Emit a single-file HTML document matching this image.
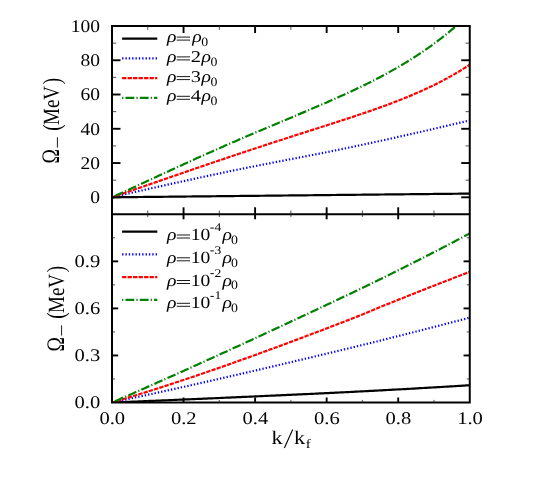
<!DOCTYPE html>
<html><head><meta charset="utf-8"><title>plot</title>
<style>
html,body{margin:0;padding:0;background:#fff;}
body{width:554px;height:498px;overflow:hidden;position:relative;font-family:"Liberation Serif",serif;}
svg{position:absolute;left:0;top:0;opacity:0.999;will-change:opacity;}
text{font-family:"Liberation Serif",serif;fill:#000;text-rendering:geometricPrecision;}
.i{font-style:italic;}
</style></head><body>
<svg width="554" height="498" viewBox="0 0 554 498">
<defs>
<clipPath id="ct"><rect x="112.0" y="26.0" width="357.75" height="188.3"/></clipPath>
<clipPath id="cb"><rect x="112.0" y="214.3" width="357.75" height="188.2"/></clipPath>
</defs>

<path d="M112.00,197.30 L113.79,197.28 L115.58,197.26 L117.37,197.24 L119.16,197.23 L120.94,197.21 L122.73,197.19 L124.52,197.17 L126.31,197.15 L128.10,197.13 L129.89,197.11 L131.68,197.10 L133.47,197.08 L135.25,197.06 L137.04,197.04 L138.83,197.02 L140.62,197.00 L142.41,196.99 L144.20,196.97 L145.99,196.95 L147.78,196.93 L149.56,196.91 L151.35,196.89 L153.14,196.87 L154.93,196.86 L156.72,196.84 L158.51,196.82 L160.30,196.80 L162.09,196.78 L163.87,196.76 L165.66,196.74 L167.45,196.73 L169.24,196.71 L171.03,196.69 L172.82,196.67 L174.61,196.65 L176.39,196.63 L178.18,196.62 L179.97,196.60 L181.76,196.58 L183.55,196.56 L185.34,196.54 L187.13,196.52 L188.92,196.50 L190.70,196.49 L192.49,196.47 L194.28,196.45 L196.07,196.43 L197.86,196.41 L199.65,196.39 L201.44,196.37 L203.23,196.36 L205.01,196.34 L206.80,196.32 L208.59,196.30 L210.38,196.28 L212.17,196.26 L213.96,196.25 L215.75,196.23 L217.54,196.21 L219.32,196.19 L221.11,196.17 L222.90,196.15 L224.69,196.13 L226.48,196.12 L228.27,196.10 L230.06,196.08 L231.85,196.06 L233.63,196.04 L235.42,196.02 L237.21,196.00 L239.00,195.99 L240.79,195.97 L242.58,195.95 L244.37,195.93 L246.16,195.91 L247.94,195.89 L249.73,195.88 L251.52,195.86 L253.31,195.84 L255.10,195.82 L256.89,195.80 L258.68,195.78 L260.47,195.76 L262.25,195.75 L264.04,195.73 L265.83,195.71 L267.62,195.69 L269.41,195.67 L271.20,195.65 L272.99,195.63 L274.78,195.62 L276.56,195.60 L278.35,195.58 L280.14,195.56 L281.93,195.54 L283.72,195.52 L285.51,195.51 L287.30,195.49 L289.09,195.47 L290.88,195.45 L292.66,195.43 L294.45,195.41 L296.24,195.39 L298.03,195.38 L299.82,195.36 L301.61,195.34 L303.40,195.32 L305.19,195.30 L306.97,195.28 L308.76,195.26 L310.55,195.25 L312.34,195.23 L314.13,195.21 L315.92,195.19 L317.71,195.17 L319.50,195.15 L321.28,195.14 L323.07,195.12 L324.86,195.10 L326.65,195.08 L328.44,195.06 L330.23,195.04 L332.02,195.02 L333.81,195.01 L335.59,194.99 L337.38,194.97 L339.17,194.95 L340.96,194.93 L342.75,194.91 L344.54,194.89 L346.33,194.88 L348.12,194.86 L349.90,194.84 L351.69,194.82 L353.48,194.80 L355.27,194.78 L357.06,194.77 L358.85,194.75 L360.64,194.73 L362.43,194.71 L364.21,194.69 L366.00,194.67 L367.79,194.65 L369.58,194.64 L371.37,194.62 L373.16,194.60 L374.95,194.58 L376.74,194.56 L378.52,194.54 L380.31,194.52 L382.10,194.51 L383.89,194.49 L385.68,194.47 L387.47,194.45 L389.26,194.43 L391.05,194.41 L392.83,194.40 L394.62,194.38 L396.41,194.36 L398.20,194.34 L399.99,194.32 L401.78,194.30 L403.57,194.28 L405.36,194.27 L407.14,194.25 L408.93,194.23 L410.72,194.21 L412.51,194.19 L414.30,194.17 L416.09,194.15 L417.88,194.14 L419.67,194.12 L421.45,194.10 L423.24,194.08 L425.03,194.06 L426.82,194.04 L428.61,194.03 L430.40,194.01 L432.19,193.99 L433.98,193.97 L435.76,193.95 L437.55,193.93 L439.34,193.91 L441.13,193.90 L442.92,193.88 L444.71,193.86 L446.50,193.84 L448.29,193.82 L450.07,193.80 L451.86,193.78 L453.65,193.77 L455.44,193.75 L457.23,193.73 L459.02,193.71 L460.81,193.69 L462.59,193.67 L464.38,193.66 L466.17,193.64 L467.96,193.62 L469.75,193.60" fill="none" stroke="#000000" stroke-width="2.2" clip-path="url(#ct)"/>
<path d="M112.00,197.30 L113.79,196.88 L115.58,196.47 L117.37,196.05 L119.16,195.64 L120.94,195.23 L122.73,194.81 L124.52,194.40 L126.31,193.99 L128.10,193.58 L129.89,193.17 L131.68,192.76 L133.47,192.35 L135.25,191.94 L137.04,191.53 L138.83,191.13 L140.62,190.72 L142.41,190.31 L144.20,189.91 L145.99,189.50 L147.78,189.10 L149.56,188.70 L151.35,188.29 L153.14,187.89 L154.93,187.49 L156.72,187.09 L158.51,186.69 L160.30,186.29 L162.09,185.89 L163.87,185.49 L165.66,185.09 L167.45,184.69 L169.24,184.29 L171.03,183.90 L172.82,183.50 L174.61,183.11 L176.39,182.71 L178.18,182.32 L179.97,181.93 L181.76,181.53 L183.55,181.14 L185.34,180.75 L187.13,180.36 L188.92,179.97 L190.70,179.58 L192.49,179.19 L194.28,178.81 L196.07,178.42 L197.86,178.03 L199.65,177.65 L201.44,177.26 L203.23,176.88 L205.01,176.49 L206.80,176.11 L208.59,175.73 L210.38,175.34 L212.17,174.96 L213.96,174.58 L215.75,174.20 L217.54,173.82 L219.32,173.44 L221.11,173.07 L222.90,172.69 L224.69,172.31 L226.48,171.94 L228.27,171.56 L230.06,171.19 L231.85,170.81 L233.63,170.44 L235.42,170.07 L237.21,169.71 L239.00,169.34 L240.79,168.98 L242.58,168.61 L244.37,168.25 L246.16,167.89 L247.94,167.53 L249.73,167.17 L251.52,166.82 L253.31,166.46 L255.10,166.11 L256.89,165.75 L258.68,165.40 L260.47,165.05 L262.25,164.70 L264.04,164.35 L265.83,164.00 L267.62,163.65 L269.41,163.30 L271.20,162.96 L272.99,162.61 L274.78,162.26 L276.56,161.92 L278.35,161.57 L280.14,161.23 L281.93,160.88 L283.72,160.54 L285.51,160.19 L287.30,159.85 L289.09,159.51 L290.88,159.16 L292.66,158.82 L294.45,158.47 L296.24,158.13 L298.03,157.78 L299.82,157.44 L301.61,157.09 L303.40,156.75 L305.19,156.40 L306.97,156.05 L308.76,155.70 L310.55,155.36 L312.34,155.01 L314.13,154.66 L315.92,154.31 L317.71,153.95 L319.50,153.60 L321.28,153.25 L323.07,152.89 L324.86,152.54 L326.65,152.18 L328.44,151.82 L330.23,151.46 L332.02,151.10 L333.81,150.74 L335.59,150.38 L337.38,150.01 L339.17,149.65 L340.96,149.28 L342.75,148.91 L344.54,148.54 L346.33,148.17 L348.12,147.79 L349.90,147.41 L351.69,147.04 L353.48,146.66 L355.27,146.28 L357.06,145.90 L358.85,145.52 L360.64,145.13 L362.43,144.75 L364.21,144.37 L366.00,143.98 L367.79,143.60 L369.58,143.21 L371.37,142.82 L373.16,142.44 L374.95,142.05 L376.74,141.66 L378.52,141.27 L380.31,140.88 L382.10,140.49 L383.89,140.09 L385.68,139.70 L387.47,139.31 L389.26,138.91 L391.05,138.52 L392.83,138.12 L394.62,137.72 L396.41,137.33 L398.20,136.93 L399.99,136.53 L401.78,136.13 L403.57,135.73 L405.36,135.33 L407.14,134.92 L408.93,134.52 L410.72,134.12 L412.51,133.71 L414.30,133.31 L416.09,132.90 L417.88,132.49 L419.67,132.09 L421.45,131.68 L423.24,131.27 L425.03,130.86 L426.82,130.45 L428.61,130.04 L430.40,129.63 L432.19,129.21 L433.98,128.80 L435.76,128.39 L437.55,127.97 L439.34,127.56 L441.13,127.14 L442.92,126.72 L444.71,126.31 L446.50,125.89 L448.29,125.47 L450.07,125.05 L451.86,124.63 L453.65,124.21 L455.44,123.79 L457.23,123.36 L459.02,122.94 L460.81,122.52 L462.59,122.09 L464.38,121.67 L466.17,121.24 L467.96,120.81 L469.75,120.39" fill="none" stroke="#0000ff" stroke-width="2.2" stroke-dasharray="1.35 2.0" clip-path="url(#ct)"/>
<path d="M112.00,197.30 L113.79,196.68 L115.58,196.07 L117.37,195.45 L119.16,194.83 L120.94,194.22 L122.73,193.60 L124.52,192.98 L126.31,192.37 L128.10,191.75 L129.89,191.13 L131.68,190.52 L133.47,189.90 L135.25,189.28 L137.04,188.67 L138.83,188.05 L140.62,187.43 L142.41,186.82 L144.20,186.20 L145.99,185.58 L147.78,184.97 L149.56,184.35 L151.35,183.73 L153.14,183.11 L154.93,182.50 L156.72,181.88 L158.51,181.26 L160.30,180.64 L162.09,180.03 L163.87,179.41 L165.66,178.79 L167.45,178.18 L169.24,177.56 L171.03,176.94 L172.82,176.33 L174.61,175.71 L176.39,175.09 L178.18,174.48 L179.97,173.86 L181.76,173.25 L183.55,172.63 L185.34,172.02 L187.13,171.40 L188.92,170.79 L190.70,170.17 L192.49,169.56 L194.28,168.95 L196.07,168.33 L197.86,167.72 L199.65,167.11 L201.44,166.49 L203.23,165.88 L205.01,165.27 L206.80,164.66 L208.59,164.05 L210.38,163.44 L212.17,162.83 L213.96,162.23 L215.75,161.62 L217.54,161.01 L219.32,160.41 L221.11,159.80 L222.90,159.19 L224.69,158.59 L226.48,157.99 L228.27,157.38 L230.06,156.78 L231.85,156.18 L233.63,155.58 L235.42,154.98 L237.21,154.38 L239.00,153.78 L240.79,153.19 L242.58,152.59 L244.37,151.99 L246.16,151.40 L247.94,150.80 L249.73,150.21 L251.52,149.62 L253.31,149.03 L255.10,148.44 L256.89,147.85 L258.68,147.26 L260.47,146.67 L262.25,146.08 L264.04,145.50 L265.83,144.91 L267.62,144.33 L269.41,143.74 L271.20,143.16 L272.99,142.58 L274.78,141.99 L276.56,141.41 L278.35,140.83 L280.14,140.25 L281.93,139.68 L283.72,139.10 L285.51,138.52 L287.30,137.94 L289.09,137.37 L290.88,136.79 L292.66,136.22 L294.45,135.64 L296.24,135.07 L298.03,134.50 L299.82,133.92 L301.61,133.35 L303.40,132.78 L305.19,132.20 L306.97,131.63 L308.76,131.06 L310.55,130.49 L312.34,129.92 L314.13,129.35 L315.92,128.77 L317.71,128.20 L319.50,127.63 L321.28,127.06 L323.07,126.48 L324.86,125.91 L326.65,125.34 L328.44,124.76 L330.23,124.19 L332.02,123.61 L333.81,123.03 L335.59,122.46 L337.38,121.88 L339.17,121.30 L340.96,120.72 L342.75,120.13 L344.54,119.55 L346.33,118.96 L348.12,118.38 L349.90,117.79 L351.69,117.20 L353.48,116.60 L355.27,116.01 L357.06,115.41 L358.85,114.81 L360.64,114.21 L362.43,113.60 L364.21,113.00 L366.00,112.39 L367.79,111.77 L369.58,111.15 L371.37,110.53 L373.16,109.91 L374.95,109.28 L376.74,108.65 L378.52,108.01 L380.31,107.37 L382.10,106.73 L383.89,106.08 L385.68,105.42 L387.47,104.76 L389.26,104.10 L391.05,103.43 L392.83,102.75 L394.62,102.07 L396.41,101.38 L398.20,100.68 L399.99,99.98 L401.78,99.27 L403.57,98.56 L405.36,97.84 L407.14,97.11 L408.93,96.37 L410.72,95.63 L412.51,94.87 L414.30,94.11 L416.09,93.34 L417.88,92.56 L419.67,91.77 L421.45,90.97 L423.24,90.16 L425.03,89.34 L426.82,88.52 L428.61,87.68 L430.40,86.82 L432.19,85.96 L433.98,85.09 L435.76,84.20 L437.55,83.30 L439.34,82.39 L441.13,81.47 L442.92,80.53 L444.71,79.58 L446.50,78.62 L448.29,77.64 L450.07,76.64 L451.86,75.64 L453.65,74.61 L455.44,73.57 L457.23,72.52 L459.02,71.44 L460.81,70.35 L462.59,69.25 L464.38,68.12 L466.17,66.98 L467.96,65.82 L469.75,64.64" fill="none" stroke="#ff0000" stroke-width="2.2" stroke-dasharray="4.3 1.2" clip-path="url(#ct)"/>
<path d="M112.00,197.30 L113.79,196.49 L115.58,195.68 L117.37,194.87 L119.16,194.05 L120.94,193.23 L122.73,192.42 L124.52,191.60 L126.31,190.77 L128.10,189.95 L129.89,189.13 L131.68,188.30 L133.47,187.48 L135.25,186.65 L137.04,185.82 L138.83,184.99 L140.62,184.16 L142.41,183.33 L144.20,182.51 L145.99,181.67 L147.78,180.84 L149.56,180.01 L151.35,179.18 L153.14,178.35 L154.93,177.52 L156.72,176.69 L158.51,175.86 L160.30,175.03 L162.09,174.20 L163.87,173.38 L165.66,172.55 L167.45,171.72 L169.24,170.89 L171.03,170.07 L172.82,169.24 L174.61,168.42 L176.39,167.59 L178.18,166.77 L179.97,165.95 L181.76,165.13 L183.55,164.31 L185.34,163.49 L187.13,162.68 L188.92,161.86 L190.70,161.05 L192.49,160.23 L194.28,159.42 L196.07,158.61 L197.86,157.80 L199.65,156.99 L201.44,156.19 L203.23,155.38 L205.01,154.58 L206.80,153.78 L208.59,152.98 L210.38,152.18 L212.17,151.38 L213.96,150.59 L215.75,149.80 L217.54,149.00 L219.32,148.21 L221.11,147.42 L222.90,146.64 L224.69,145.85 L226.48,145.07 L228.27,144.29 L230.06,143.50 L231.85,142.72 L233.63,141.95 L235.42,141.17 L237.21,140.40 L239.00,139.62 L240.79,138.85 L242.58,138.08 L244.37,137.31 L246.16,136.54 L247.94,135.78 L249.73,135.01 L251.52,134.25 L253.31,133.48 L255.10,132.72 L256.89,131.96 L258.68,131.20 L260.47,130.44 L262.25,129.69 L264.04,128.93 L265.83,128.17 L267.62,127.42 L269.41,126.67 L271.20,125.91 L272.99,125.16 L274.78,124.41 L276.56,123.66 L278.35,122.90 L280.14,122.15 L281.93,121.40 L283.72,120.65 L285.51,119.90 L287.30,119.15 L289.09,118.40 L290.88,117.65 L292.66,116.89 L294.45,116.14 L296.24,115.39 L298.03,114.64 L299.82,113.88 L301.61,113.13 L303.40,112.37 L305.19,111.62 L306.97,110.86 L308.76,110.10 L310.55,109.34 L312.34,108.58 L314.13,107.81 L315.92,107.05 L317.71,106.28 L319.50,105.51 L321.28,104.74 L323.07,103.96 L324.86,103.19 L326.65,102.41 L328.44,101.62 L330.23,100.84 L332.02,100.05 L333.81,99.26 L335.59,98.47 L337.38,97.67 L339.17,96.86 L340.96,96.06 L342.75,95.25 L344.54,94.43 L346.33,93.62 L348.12,92.79 L349.90,91.97 L351.69,91.13 L353.48,90.29 L355.27,89.45 L357.06,88.60 L358.85,87.75 L360.64,86.89 L362.43,86.02 L364.21,85.15 L366.00,84.27 L367.79,83.38 L369.58,82.49 L371.37,81.59 L373.16,80.68 L374.95,79.77 L376.74,78.84 L378.52,77.91 L380.31,76.97 L382.10,76.03 L383.89,75.07 L385.68,74.11 L387.47,73.13 L389.26,72.15 L391.05,71.15 L392.83,70.15 L394.62,69.14 L396.41,68.11 L398.20,67.08 L399.99,66.03 L401.78,64.98 L403.57,63.91 L405.36,62.83 L407.14,61.74 L408.93,60.63 L410.72,59.52 L412.51,58.39 L414.30,57.24 L416.09,56.09 L417.88,54.92 L419.67,53.73 L421.45,52.54 L423.24,51.32 L425.03,50.10 L426.82,48.85 L428.61,47.60 L430.40,46.32 L432.19,45.03 L433.98,43.72 L435.76,42.40 L437.55,41.06 L439.34,39.70 L441.13,38.33 L442.92,36.93 L444.71,35.52 L446.50,34.09 L448.29,32.64 L450.07,31.17 L451.86,29.68 L453.65,28.18 L455.44,26.65 L457.23,25.10 L459.02,23.52 L460.81,21.93 L462.59,20.32 L464.38,18.68 L466.17,17.02 L467.96,15.34 L469.75,13.63" fill="none" stroke="#008000" stroke-width="2.2" stroke-dasharray="1.2 2.2 8.8 2.1" clip-path="url(#ct)"/>
<path d="M112.00,402.50 L113.79,402.43 L115.58,402.36 L117.37,402.29 L119.16,402.21 L120.94,402.14 L122.73,402.07 L124.52,402.00 L126.31,401.93 L128.10,401.85 L129.89,401.78 L131.68,401.71 L133.47,401.64 L135.25,401.56 L137.04,401.49 L138.83,401.42 L140.62,401.34 L142.41,401.27 L144.20,401.20 L145.99,401.12 L147.78,401.05 L149.56,400.97 L151.35,400.90 L153.14,400.83 L154.93,400.75 L156.72,400.68 L158.51,400.60 L160.30,400.53 L162.09,400.45 L163.87,400.38 L165.66,400.30 L167.45,400.23 L169.24,400.15 L171.03,400.08 L172.82,400.00 L174.61,399.93 L176.39,399.85 L178.18,399.77 L179.97,399.70 L181.76,399.62 L183.55,399.55 L185.34,399.47 L187.13,399.39 L188.92,399.32 L190.70,399.24 L192.49,399.16 L194.28,399.09 L196.07,399.01 L197.86,398.93 L199.65,398.85 L201.44,398.78 L203.23,398.70 L205.01,398.62 L206.80,398.55 L208.59,398.47 L210.38,398.39 L212.17,398.31 L213.96,398.23 L215.75,398.16 L217.54,398.08 L219.32,398.00 L221.11,397.92 L222.90,397.84 L224.69,397.76 L226.48,397.68 L228.27,397.61 L230.06,397.53 L231.85,397.45 L233.63,397.37 L235.42,397.29 L237.21,397.21 L239.00,397.13 L240.79,397.05 L242.58,396.97 L244.37,396.89 L246.16,396.81 L247.94,396.73 L249.73,396.65 L251.52,396.57 L253.31,396.49 L255.10,396.41 L256.89,396.33 L258.68,396.25 L260.47,396.17 L262.25,396.09 L264.04,396.01 L265.83,395.93 L267.62,395.85 L269.41,395.77 L271.20,395.69 L272.99,395.61 L274.78,395.53 L276.56,395.45 L278.35,395.37 L280.14,395.29 L281.93,395.20 L283.72,395.12 L285.51,395.04 L287.30,394.96 L289.09,394.88 L290.88,394.80 L292.66,394.72 L294.45,394.64 L296.24,394.55 L298.03,394.47 L299.82,394.39 L301.61,394.31 L303.40,394.22 L305.19,394.14 L306.97,394.06 L308.76,393.98 L310.55,393.89 L312.34,393.81 L314.13,393.73 L315.92,393.64 L317.71,393.56 L319.50,393.47 L321.28,393.39 L323.07,393.30 L324.86,393.22 L326.65,393.13 L328.44,393.05 L330.23,392.96 L332.02,392.87 L333.81,392.79 L335.59,392.70 L337.38,392.61 L339.17,392.52 L340.96,392.43 L342.75,392.34 L344.54,392.25 L346.33,392.16 L348.12,392.07 L349.90,391.98 L351.69,391.89 L353.48,391.80 L355.27,391.71 L357.06,391.62 L358.85,391.52 L360.64,391.43 L362.43,391.34 L364.21,391.24 L366.00,391.15 L367.79,391.06 L369.58,390.96 L371.37,390.87 L373.16,390.78 L374.95,390.68 L376.74,390.59 L378.52,390.49 L380.31,390.39 L382.10,390.30 L383.89,390.20 L385.68,390.11 L387.47,390.01 L389.26,389.91 L391.05,389.82 L392.83,389.72 L394.62,389.62 L396.41,389.52 L398.20,389.42 L399.99,389.32 L401.78,389.23 L403.57,389.13 L405.36,389.03 L407.14,388.93 L408.93,388.83 L410.72,388.73 L412.51,388.63 L414.30,388.53 L416.09,388.42 L417.88,388.32 L419.67,388.22 L421.45,388.12 L423.24,388.02 L425.03,387.91 L426.82,387.81 L428.61,387.71 L430.40,387.60 L432.19,387.50 L433.98,387.40 L435.76,387.29 L437.55,387.19 L439.34,387.08 L441.13,386.98 L442.92,386.87 L444.71,386.76 L446.50,386.66 L448.29,386.55 L450.07,386.44 L451.86,386.34 L453.65,386.23 L455.44,386.12 L457.23,386.01 L459.02,385.91 L460.81,385.80 L462.59,385.69 L464.38,385.58 L466.17,385.47 L467.96,385.36 L469.75,385.25" fill="none" stroke="#000000" stroke-width="2.2" clip-path="url(#cb)"/>
<path d="M112.00,402.50 L113.79,402.12 L115.58,401.74 L117.37,401.36 L119.16,400.97 L120.94,400.59 L122.73,400.21 L124.52,399.83 L126.31,399.44 L128.10,399.06 L129.89,398.67 L131.68,398.29 L133.47,397.90 L135.25,397.51 L137.04,397.13 L138.83,396.74 L140.62,396.35 L142.41,395.96 L144.20,395.57 L145.99,395.18 L147.78,394.79 L149.56,394.40 L151.35,394.01 L153.14,393.62 L154.93,393.23 L156.72,392.83 L158.51,392.44 L160.30,392.05 L162.09,391.65 L163.87,391.26 L165.66,390.86 L167.45,390.47 L169.24,390.07 L171.03,389.67 L172.82,389.28 L174.61,388.88 L176.39,388.48 L178.18,388.08 L179.97,387.69 L181.76,387.29 L183.55,386.89 L185.34,386.49 L187.13,386.09 L188.92,385.69 L190.70,385.28 L192.49,384.88 L194.28,384.48 L196.07,384.08 L197.86,383.67 L199.65,383.27 L201.44,382.87 L203.23,382.46 L205.01,382.06 L206.80,381.65 L208.59,381.25 L210.38,380.84 L212.17,380.43 L213.96,380.03 L215.75,379.62 L217.54,379.21 L219.32,378.80 L221.11,378.40 L222.90,377.99 L224.69,377.58 L226.48,377.17 L228.27,376.76 L230.06,376.35 L231.85,375.94 L233.63,375.52 L235.42,375.11 L237.21,374.70 L239.00,374.29 L240.79,373.87 L242.58,373.46 L244.37,373.05 L246.16,372.63 L247.94,372.22 L249.73,371.80 L251.52,371.39 L253.31,370.97 L255.10,370.56 L256.89,370.14 L258.68,369.72 L260.47,369.31 L262.25,368.89 L264.04,368.47 L265.83,368.05 L267.62,367.64 L269.41,367.22 L271.20,366.80 L272.99,366.38 L274.78,365.96 L276.56,365.54 L278.35,365.12 L280.14,364.70 L281.93,364.27 L283.72,363.85 L285.51,363.43 L287.30,363.01 L289.09,362.59 L290.88,362.16 L292.66,361.74 L294.45,361.32 L296.24,360.89 L298.03,360.47 L299.82,360.04 L301.61,359.62 L303.40,359.19 L305.19,358.77 L306.97,358.34 L308.76,357.92 L310.55,357.49 L312.34,357.06 L314.13,356.64 L315.92,356.21 L317.71,355.78 L319.50,355.35 L321.28,354.93 L323.07,354.50 L324.86,354.07 L326.65,353.64 L328.44,353.21 L330.23,352.78 L332.02,352.35 L333.81,351.92 L335.59,351.49 L337.38,351.06 L339.17,350.63 L340.96,350.20 L342.75,349.76 L344.54,349.33 L346.33,348.90 L348.12,348.47 L349.90,348.04 L351.69,347.60 L353.48,347.17 L355.27,346.73 L357.06,346.30 L358.85,345.86 L360.64,345.42 L362.43,344.99 L364.21,344.55 L366.00,344.11 L367.79,343.67 L369.58,343.23 L371.37,342.79 L373.16,342.34 L374.95,341.90 L376.74,341.46 L378.52,341.01 L380.31,340.57 L382.10,340.12 L383.89,339.68 L385.68,339.23 L387.47,338.78 L389.26,338.34 L391.05,337.89 L392.83,337.44 L394.62,336.99 L396.41,336.54 L398.20,336.09 L399.99,335.63 L401.78,335.18 L403.57,334.73 L405.36,334.28 L407.14,333.82 L408.93,333.37 L410.72,332.91 L412.51,332.46 L414.30,332.00 L416.09,331.54 L417.88,331.09 L419.67,330.63 L421.45,330.17 L423.24,329.71 L425.03,329.26 L426.82,328.80 L428.61,328.34 L430.40,327.88 L432.19,327.41 L433.98,326.95 L435.76,326.49 L437.55,326.03 L439.34,325.57 L441.13,325.11 L442.92,324.64 L444.71,324.18 L446.50,323.71 L448.29,323.25 L450.07,322.79 L451.86,322.32 L453.65,321.86 L455.44,321.39 L457.23,320.92 L459.02,320.46 L460.81,319.99 L462.59,319.52 L464.38,319.06 L466.17,318.59 L467.96,318.12 L469.75,317.65" fill="none" stroke="#0000ff" stroke-width="2.2" stroke-dasharray="1.35 2.0" clip-path="url(#cb)"/>
<path d="M112.00,402.50 L113.79,401.97 L115.58,401.44 L117.37,400.91 L119.16,400.37 L120.94,399.84 L122.73,399.30 L124.52,398.76 L126.31,398.22 L128.10,397.67 L129.89,397.13 L131.68,396.58 L133.47,396.03 L135.25,395.48 L137.04,394.93 L138.83,394.37 L140.62,393.82 L142.41,393.26 L144.20,392.70 L145.99,392.14 L147.78,391.57 L149.56,391.01 L151.35,390.44 L153.14,389.87 L154.93,389.30 L156.72,388.73 L158.51,388.16 L160.30,387.58 L162.09,387.00 L163.87,386.43 L165.66,385.85 L167.45,385.26 L169.24,384.68 L171.03,384.10 L172.82,383.51 L174.61,382.92 L176.39,382.33 L178.18,381.74 L179.97,381.15 L181.76,380.55 L183.55,379.96 L185.34,379.36 L187.13,378.76 L188.92,378.16 L190.70,377.56 L192.49,376.96 L194.28,376.35 L196.07,375.75 L197.86,375.14 L199.65,374.53 L201.44,373.92 L203.23,373.31 L205.01,372.70 L206.80,372.08 L208.59,371.47 L210.38,370.85 L212.17,370.23 L213.96,369.61 L215.75,368.99 L217.54,368.37 L219.32,367.74 L221.11,367.12 L222.90,366.49 L224.69,365.86 L226.48,365.24 L228.27,364.61 L230.06,363.97 L231.85,363.34 L233.63,362.71 L235.42,362.07 L237.21,361.44 L239.00,360.80 L240.79,360.16 L242.58,359.52 L244.37,358.88 L246.16,358.24 L247.94,357.60 L249.73,356.95 L251.52,356.31 L253.31,355.66 L255.10,355.02 L256.89,354.37 L258.68,353.72 L260.47,353.07 L262.25,352.42 L264.04,351.76 L265.83,351.11 L267.62,350.46 L269.41,349.80 L271.20,349.14 L272.99,348.49 L274.78,347.83 L276.56,347.17 L278.35,346.51 L280.14,345.85 L281.93,345.19 L283.72,344.52 L285.51,343.86 L287.30,343.20 L289.09,342.53 L290.88,341.86 L292.66,341.20 L294.45,340.53 L296.24,339.86 L298.03,339.19 L299.82,338.52 L301.61,337.85 L303.40,337.18 L305.19,336.50 L306.97,335.83 L308.76,335.16 L310.55,334.48 L312.34,333.80 L314.13,333.13 L315.92,332.45 L317.71,331.77 L319.50,331.09 L321.28,330.42 L323.07,329.74 L324.86,329.05 L326.65,328.37 L328.44,327.69 L330.23,327.01 L332.02,326.33 L333.81,325.64 L335.59,324.96 L337.38,324.27 L339.17,323.59 L340.96,322.90 L342.75,322.22 L344.54,321.53 L346.33,320.84 L348.12,320.15 L349.90,319.47 L351.69,318.77 L353.48,318.06 L355.27,317.35 L357.06,316.62 L358.85,315.89 L360.64,315.16 L362.43,314.41 L364.21,313.67 L366.00,312.92 L367.79,312.17 L369.58,311.42 L371.37,310.68 L373.16,309.93 L374.95,309.19 L376.74,308.45 L378.52,307.72 L380.31,307.00 L382.10,306.28 L383.89,305.56 L385.68,304.84 L387.47,304.12 L389.26,303.41 L391.05,302.69 L392.83,301.97 L394.62,301.26 L396.41,300.54 L398.20,299.83 L399.99,299.11 L401.78,298.40 L403.57,297.68 L405.36,296.97 L407.14,296.26 L408.93,295.55 L410.72,294.84 L412.51,294.13 L414.30,293.42 L416.09,292.71 L417.88,292.00 L419.67,291.30 L421.45,290.59 L423.24,289.89 L425.03,289.18 L426.82,288.48 L428.61,287.77 L430.40,287.07 L432.19,286.37 L433.98,285.67 L435.76,284.97 L437.55,284.27 L439.34,283.57 L441.13,282.88 L442.92,282.18 L444.71,281.49 L446.50,280.79 L448.29,280.10 L450.07,279.41 L451.86,278.71 L453.65,278.02 L455.44,277.34 L457.23,276.65 L459.02,275.96 L460.81,275.27 L462.59,274.59 L464.38,273.90 L466.17,273.22 L467.96,272.54 L469.75,271.86" fill="none" stroke="#ff0000" stroke-width="2.2" stroke-dasharray="4.3 1.2" clip-path="url(#cb)"/>
<path d="M112.00,402.50 L113.79,401.72 L115.58,400.95 L117.37,400.17 L119.16,399.39 L120.94,398.61 L122.73,397.83 L124.52,397.05 L126.31,396.27 L128.10,395.49 L129.89,394.71 L131.68,393.92 L133.47,393.14 L135.25,392.35 L137.04,391.57 L138.83,390.78 L140.62,389.99 L142.41,389.20 L144.20,388.42 L145.99,387.63 L147.78,386.84 L149.56,386.04 L151.35,385.25 L153.14,384.46 L154.93,383.67 L156.72,382.87 L158.51,382.08 L160.30,381.28 L162.09,380.49 L163.87,379.69 L165.66,378.89 L167.45,378.09 L169.24,377.30 L171.03,376.50 L172.82,375.70 L174.61,374.89 L176.39,374.09 L178.18,373.29 L179.97,372.49 L181.76,371.69 L183.55,370.88 L185.34,370.08 L187.13,369.27 L188.92,368.47 L190.70,367.66 L192.49,366.85 L194.28,366.04 L196.07,365.23 L197.86,364.43 L199.65,363.62 L201.44,362.81 L203.23,362.00 L205.01,361.18 L206.80,360.37 L208.59,359.56 L210.38,358.75 L212.17,357.93 L213.96,357.12 L215.75,356.30 L217.54,355.49 L219.32,354.67 L221.11,353.85 L222.90,353.04 L224.69,352.22 L226.48,351.40 L228.27,350.58 L230.06,349.76 L231.85,348.94 L233.63,348.12 L235.42,347.30 L237.21,346.48 L239.00,345.66 L240.79,344.84 L242.58,344.01 L244.37,343.19 L246.16,342.37 L247.94,341.54 L249.73,340.72 L251.52,339.89 L253.31,339.07 L255.10,338.24 L256.89,337.41 L258.68,336.59 L260.47,335.76 L262.25,334.93 L264.04,334.10 L265.83,333.27 L267.62,332.44 L269.41,331.61 L271.20,330.78 L272.99,329.95 L274.78,329.12 L276.56,328.29 L278.35,327.46 L280.14,326.63 L281.93,325.79 L283.72,324.96 L285.51,324.13 L287.30,323.29 L289.09,322.46 L290.88,321.62 L292.66,320.79 L294.45,319.95 L296.24,319.12 L298.03,318.28 L299.82,317.44 L301.61,316.61 L303.40,315.77 L305.19,314.93 L306.97,314.09 L308.76,313.26 L310.55,312.42 L312.34,311.58 L314.13,310.74 L315.92,309.90 L317.71,309.06 L319.50,308.22 L321.28,307.38 L323.07,306.54 L324.86,305.69 L326.65,304.85 L328.44,304.01 L330.23,303.17 L332.02,302.33 L333.81,301.48 L335.59,300.64 L337.38,299.80 L339.17,298.95 L340.96,298.11 L342.75,297.27 L344.54,296.42 L346.33,295.58 L348.12,294.73 L349.90,293.89 L351.69,293.04 L353.48,292.19 L355.27,291.34 L357.06,290.49 L358.85,289.64 L360.64,288.78 L362.43,287.92 L364.21,287.06 L366.00,286.20 L367.79,285.33 L369.58,284.47 L371.37,283.60 L373.16,282.73 L374.95,281.85 L376.74,280.97 L378.52,280.09 L380.31,279.21 L382.10,278.32 L383.89,277.44 L385.68,276.55 L387.47,275.66 L389.26,274.78 L391.05,273.89 L392.83,272.99 L394.62,272.10 L396.41,271.21 L398.20,270.32 L399.99,269.42 L401.78,268.52 L403.57,267.63 L405.36,266.73 L407.14,265.83 L408.93,264.93 L410.72,264.03 L412.51,263.12 L414.30,262.22 L416.09,261.31 L417.88,260.40 L419.67,259.49 L421.45,258.58 L423.24,257.67 L425.03,256.76 L426.82,255.85 L428.61,254.93 L430.40,254.01 L432.19,253.09 L433.98,252.17 L435.76,251.25 L437.55,250.33 L439.34,249.41 L441.13,248.48 L442.92,247.55 L444.71,246.62 L446.50,245.69 L448.29,244.76 L450.07,243.82 L451.86,242.89 L453.65,241.95 L455.44,241.01 L457.23,240.07 L459.02,239.13 L460.81,238.18 L462.59,237.24 L464.38,236.29 L466.17,235.34 L467.96,234.39 L469.75,233.43" fill="none" stroke="#008000" stroke-width="2.2" stroke-dasharray="1.2 2.2 8.8 2.1" clip-path="url(#cb)"/>
<g stroke="#000" stroke-width="2" fill="none">
<rect x="112.0" y="26.0" width="357.75" height="376.5"/>
<line x1="112.0" y1="214.3" x2="469.75" y2="214.3"/>
</g>
<line x1="112.00" y1="197.30" x2="120.50" y2="197.30" stroke="#000" stroke-width="1.9"/>
<line x1="461.25" y1="197.30" x2="469.75" y2="197.30" stroke="#000" stroke-width="1.9"/>
<line x1="112.00" y1="180.17" x2="116.20" y2="180.17" stroke="#222" stroke-width="0.8"/>
<line x1="465.55" y1="180.17" x2="469.75" y2="180.17" stroke="#222" stroke-width="0.8"/>
<line x1="112.00" y1="163.04" x2="120.50" y2="163.04" stroke="#000" stroke-width="1.9"/>
<line x1="461.25" y1="163.04" x2="469.75" y2="163.04" stroke="#000" stroke-width="1.9"/>
<line x1="112.00" y1="145.91" x2="116.20" y2="145.91" stroke="#222" stroke-width="0.8"/>
<line x1="465.55" y1="145.91" x2="469.75" y2="145.91" stroke="#222" stroke-width="0.8"/>
<line x1="112.00" y1="128.78" x2="120.50" y2="128.78" stroke="#000" stroke-width="1.9"/>
<line x1="461.25" y1="128.78" x2="469.75" y2="128.78" stroke="#000" stroke-width="1.9"/>
<line x1="112.00" y1="111.65" x2="116.20" y2="111.65" stroke="#222" stroke-width="0.8"/>
<line x1="465.55" y1="111.65" x2="469.75" y2="111.65" stroke="#222" stroke-width="0.8"/>
<line x1="112.00" y1="94.52" x2="120.50" y2="94.52" stroke="#000" stroke-width="1.9"/>
<line x1="461.25" y1="94.52" x2="469.75" y2="94.52" stroke="#000" stroke-width="1.9"/>
<line x1="112.00" y1="77.39" x2="116.20" y2="77.39" stroke="#222" stroke-width="0.8"/>
<line x1="465.55" y1="77.39" x2="469.75" y2="77.39" stroke="#222" stroke-width="0.8"/>
<line x1="112.00" y1="60.26" x2="120.50" y2="60.26" stroke="#000" stroke-width="1.9"/>
<line x1="461.25" y1="60.26" x2="469.75" y2="60.26" stroke="#000" stroke-width="1.9"/>
<line x1="112.00" y1="43.13" x2="116.20" y2="43.13" stroke="#222" stroke-width="0.8"/>
<line x1="465.55" y1="43.13" x2="469.75" y2="43.13" stroke="#222" stroke-width="0.8"/>
<line x1="147.78" y1="26.00" x2="147.78" y2="29.80" stroke="#222" stroke-width="0.8"/>
<line x1="147.78" y1="210.50" x2="147.78" y2="214.30" stroke="#222" stroke-width="0.8"/>
<line x1="183.55" y1="26.00" x2="183.55" y2="33.00" stroke="#000" stroke-width="1.9"/>
<line x1="183.55" y1="207.30" x2="183.55" y2="214.30" stroke="#000" stroke-width="1.9"/>
<line x1="219.32" y1="26.00" x2="219.32" y2="29.80" stroke="#222" stroke-width="0.8"/>
<line x1="219.32" y1="210.50" x2="219.32" y2="214.30" stroke="#222" stroke-width="0.8"/>
<line x1="255.10" y1="26.00" x2="255.10" y2="33.00" stroke="#000" stroke-width="1.9"/>
<line x1="255.10" y1="207.30" x2="255.10" y2="214.30" stroke="#000" stroke-width="1.9"/>
<line x1="290.88" y1="26.00" x2="290.88" y2="29.80" stroke="#222" stroke-width="0.8"/>
<line x1="290.88" y1="210.50" x2="290.88" y2="214.30" stroke="#222" stroke-width="0.8"/>
<line x1="326.65" y1="26.00" x2="326.65" y2="33.00" stroke="#000" stroke-width="1.9"/>
<line x1="326.65" y1="207.30" x2="326.65" y2="214.30" stroke="#000" stroke-width="1.9"/>
<line x1="362.42" y1="26.00" x2="362.42" y2="29.80" stroke="#222" stroke-width="0.8"/>
<line x1="362.42" y1="210.50" x2="362.42" y2="214.30" stroke="#222" stroke-width="0.8"/>
<line x1="398.20" y1="26.00" x2="398.20" y2="33.00" stroke="#000" stroke-width="1.9"/>
<line x1="398.20" y1="207.30" x2="398.20" y2="214.30" stroke="#000" stroke-width="1.9"/>
<line x1="433.98" y1="26.00" x2="433.98" y2="29.80" stroke="#222" stroke-width="0.8"/>
<line x1="433.98" y1="210.50" x2="433.98" y2="214.30" stroke="#222" stroke-width="0.8"/>
<line x1="112.00" y1="378.98" x2="115.00" y2="378.98" stroke="#222" stroke-width="0.8"/>
<line x1="466.75" y1="378.98" x2="469.75" y2="378.98" stroke="#222" stroke-width="0.8"/>
<line x1="112.00" y1="355.45" x2="118.20" y2="355.45" stroke="#000" stroke-width="1.9"/>
<line x1="463.55" y1="355.45" x2="469.75" y2="355.45" stroke="#000" stroke-width="1.9"/>
<line x1="112.00" y1="331.93" x2="115.00" y2="331.93" stroke="#222" stroke-width="0.8"/>
<line x1="466.75" y1="331.93" x2="469.75" y2="331.93" stroke="#222" stroke-width="0.8"/>
<line x1="112.00" y1="308.40" x2="118.20" y2="308.40" stroke="#000" stroke-width="1.9"/>
<line x1="463.55" y1="308.40" x2="469.75" y2="308.40" stroke="#000" stroke-width="1.9"/>
<line x1="112.00" y1="284.88" x2="115.00" y2="284.88" stroke="#222" stroke-width="0.8"/>
<line x1="466.75" y1="284.88" x2="469.75" y2="284.88" stroke="#222" stroke-width="0.8"/>
<line x1="112.00" y1="261.35" x2="118.20" y2="261.35" stroke="#000" stroke-width="1.9"/>
<line x1="463.55" y1="261.35" x2="469.75" y2="261.35" stroke="#000" stroke-width="1.9"/>
<line x1="112.00" y1="237.83" x2="115.00" y2="237.83" stroke="#222" stroke-width="0.8"/>
<line x1="466.75" y1="237.83" x2="469.75" y2="237.83" stroke="#222" stroke-width="0.8"/>
<line x1="147.78" y1="214.30" x2="147.78" y2="216.90" stroke="#222" stroke-width="0.8"/>
<line x1="147.78" y1="399.90" x2="147.78" y2="402.50" stroke="#222" stroke-width="0.8"/>
<line x1="183.55" y1="214.30" x2="183.55" y2="219.30" stroke="#000" stroke-width="1.9"/>
<line x1="183.55" y1="397.50" x2="183.55" y2="402.50" stroke="#000" stroke-width="1.9"/>
<line x1="219.32" y1="214.30" x2="219.32" y2="216.90" stroke="#222" stroke-width="0.8"/>
<line x1="219.32" y1="399.90" x2="219.32" y2="402.50" stroke="#222" stroke-width="0.8"/>
<line x1="255.10" y1="214.30" x2="255.10" y2="219.30" stroke="#000" stroke-width="1.9"/>
<line x1="255.10" y1="397.50" x2="255.10" y2="402.50" stroke="#000" stroke-width="1.9"/>
<line x1="290.88" y1="214.30" x2="290.88" y2="216.90" stroke="#222" stroke-width="0.8"/>
<line x1="290.88" y1="399.90" x2="290.88" y2="402.50" stroke="#222" stroke-width="0.8"/>
<line x1="326.65" y1="214.30" x2="326.65" y2="219.30" stroke="#000" stroke-width="1.9"/>
<line x1="326.65" y1="397.50" x2="326.65" y2="402.50" stroke="#000" stroke-width="1.9"/>
<line x1="362.42" y1="214.30" x2="362.42" y2="216.90" stroke="#222" stroke-width="0.8"/>
<line x1="362.42" y1="399.90" x2="362.42" y2="402.50" stroke="#222" stroke-width="0.8"/>
<line x1="398.20" y1="214.30" x2="398.20" y2="219.30" stroke="#000" stroke-width="1.9"/>
<line x1="398.20" y1="397.50" x2="398.20" y2="402.50" stroke="#000" stroke-width="1.9"/>
<line x1="433.98" y1="214.30" x2="433.98" y2="216.90" stroke="#222" stroke-width="0.8"/>
<line x1="433.98" y1="399.90" x2="433.98" y2="402.50" stroke="#222" stroke-width="0.8"/>
<line x1="122.1" y1="38.6" x2="157.3" y2="38.6" stroke="#000000" stroke-width="2.2"/>
<line x1="122.1" y1="58.4" x2="157.3" y2="58.4" stroke="#0000ff" stroke-width="2.2" stroke-dasharray="1.35 2.0"/>
<line x1="122.1" y1="78.1" x2="157.3" y2="78.1" stroke="#ff0000" stroke-width="2.2" stroke-dasharray="4.3 1.2"/>
<line x1="122.1" y1="97.8" x2="157.3" y2="97.8" stroke="#008000" stroke-width="2.2" stroke-dasharray="1.2 2.2 8.8 2.1"/>
<line x1="122.1" y1="231.6" x2="157.3" y2="231.6" stroke="#000000" stroke-width="2.2"/>
<line x1="122.1" y1="254.4" x2="157.3" y2="254.4" stroke="#0000ff" stroke-width="2.2" stroke-dasharray="1.35 2.0"/>
<line x1="122.1" y1="277.1" x2="157.3" y2="277.1" stroke="#ff0000" stroke-width="2.2" stroke-dasharray="4.3 1.2"/>
<line x1="122.1" y1="299.9" x2="157.3" y2="299.9" stroke="#008000" stroke-width="2.2" stroke-dasharray="1.2 2.2 8.8 2.1"/>
<text transform="translate(100.00 203.20) scale(1.09 1.0)" text-anchor="end" style="font-size:17.9px;">0</text>
<text transform="translate(100.00 168.94) scale(1.09 1.0)" text-anchor="end" style="font-size:17.9px;">20</text>
<text transform="translate(100.00 134.68) scale(1.09 1.0)" text-anchor="end" style="font-size:17.9px;">40</text>
<text transform="translate(100.00 100.42) scale(1.09 1.0)" text-anchor="end" style="font-size:17.9px;">60</text>
<text transform="translate(100.00 66.16) scale(1.09 1.0)" text-anchor="end" style="font-size:17.9px;">80</text>
<text transform="translate(100.00 31.90) scale(1.09 1.0)" text-anchor="end" style="font-size:17.9px;">100</text>
<text transform="translate(100.20 408.40) scale(1.15 1.0)" text-anchor="end" style="font-size:17.9px;">0.0</text>
<text transform="translate(100.20 361.35) scale(1.15 1.0)" text-anchor="end" style="font-size:17.9px;">0.3</text>
<text transform="translate(100.20 314.30) scale(1.15 1.0)" text-anchor="end" style="font-size:17.9px;">0.6</text>
<text transform="translate(100.20 267.25) scale(1.15 1.0)" text-anchor="end" style="font-size:17.9px;">0.9</text>
<text transform="translate(112.25 424.40) scale(1.15 1.0)" text-anchor="middle" style="font-size:17.9px;">0.0</text>
<text transform="translate(183.80 424.40) scale(1.15 1.0)" text-anchor="middle" style="font-size:17.9px;">0.2</text>
<text transform="translate(255.35 424.40) scale(1.15 1.0)" text-anchor="middle" style="font-size:17.9px;">0.4</text>
<text transform="translate(326.90 424.40) scale(1.15 1.0)" text-anchor="middle" style="font-size:17.9px;">0.6</text>
<text transform="translate(398.45 424.40) scale(1.15 1.0)" text-anchor="middle" style="font-size:17.9px;">0.8</text>
<text transform="translate(470.00 424.40) scale(1.15 1.0)" text-anchor="middle" style="font-size:17.9px;">1.0</text>
<text transform="translate(271.48 443.70) scale(1.15 1.0)" text-anchor="start" style="font-size:19.3px;">k</text>
<text transform="translate(293.98 443.70) scale(1.15 1.0)" text-anchor="start" style="font-size:19.3px;">k</text>
<line x1="284.4" y1="448.0" x2="292.7" y2="429.5" stroke="#000" stroke-width="1.1"/>
<text transform="translate(305.64 447.50) scale(1.15 1.0)" text-anchor="start" style="font-size:12.9px;">f</text>
<g transform="translate(59.40 163.60) rotate(-90) scale(1.08 1.4)"><text style="font-size:18px">Ω</text></g>
<line x1="57.40" y1="147.60" x2="57.40" y2="137.30" stroke="#000" stroke-width="0.9"/>
<g transform="translate(59.70 130.80) rotate(-90) scale(1.08 1.384)"><text style="font-size:18px">(</text></g>
<g transform="translate(59.40 124.90) rotate(-90) scale(1.05 1.29)"><text style="font-size:18px">MeV</text></g>
<g transform="translate(59.70 84.20) rotate(-90) scale(1.08 1.384)"><text style="font-size:18px">)</text></g>
<g transform="translate(63.60 351.60) rotate(-90) scale(1.08 1.4)"><text style="font-size:18px">Ω</text></g>
<line x1="61.60" y1="335.60" x2="61.60" y2="325.30" stroke="#000" stroke-width="0.9"/>
<g transform="translate(63.90 318.80) rotate(-90) scale(1.08 1.384)"><text style="font-size:18px">(</text></g>
<g transform="translate(63.60 312.90) rotate(-90) scale(1.05 1.29)"><text style="font-size:18px">MeV</text></g>
<g transform="translate(63.90 272.20) rotate(-90) scale(1.08 1.384)"><text style="font-size:18px">)</text></g>
<text transform="translate(166.89 42.10) scale(1.16 1.0)" text-anchor="start" style="font-size:17.0px;font-style:italic;">ρ</text>
<line x1="176.7" y1="37.10" x2="190.0" y2="37.10" stroke="#000" stroke-width="0.9"/><line x1="176.7" y1="40.10" x2="190.0" y2="40.10" stroke="#000" stroke-width="0.9"/>
<text transform="translate(192.29 42.10) scale(1.16 1.0)" text-anchor="start" style="font-size:17.0px;font-style:italic;">ρ</text>
<text transform="translate(201.37 46.10) scale(1.09 1.0)" text-anchor="start" style="font-size:12.7px;">0</text>
<text transform="translate(166.89 61.90) scale(1.16 1.0)" text-anchor="start" style="font-size:17.0px;font-style:italic;">ρ</text>
<line x1="176.7" y1="56.90" x2="190.0" y2="56.90" stroke="#000" stroke-width="0.9"/><line x1="176.7" y1="59.90" x2="190.0" y2="59.90" stroke="#000" stroke-width="0.9"/>
<text transform="translate(190.80 61.90) scale(1.24 1.0)" text-anchor="start" style="font-size:16.5px;">2</text>
<text transform="translate(201.39 61.90) scale(1.16 1.0)" text-anchor="start" style="font-size:17.0px;font-style:italic;">ρ</text>
<text transform="translate(210.47 65.90) scale(1.09 1.0)" text-anchor="start" style="font-size:12.7px;">0</text>
<text transform="translate(166.89 81.60) scale(1.16 1.0)" text-anchor="start" style="font-size:17.0px;font-style:italic;">ρ</text>
<line x1="176.7" y1="76.60" x2="190.0" y2="76.60" stroke="#000" stroke-width="0.9"/><line x1="176.7" y1="79.60" x2="190.0" y2="79.60" stroke="#000" stroke-width="0.9"/>
<text transform="translate(190.80 81.60) scale(1.24 1.0)" text-anchor="start" style="font-size:16.5px;">3</text>
<text transform="translate(201.39 81.60) scale(1.16 1.0)" text-anchor="start" style="font-size:17.0px;font-style:italic;">ρ</text>
<text transform="translate(210.47 85.60) scale(1.09 1.0)" text-anchor="start" style="font-size:12.7px;">0</text>
<text transform="translate(166.89 101.30) scale(1.16 1.0)" text-anchor="start" style="font-size:17.0px;font-style:italic;">ρ</text>
<line x1="176.7" y1="96.30" x2="190.0" y2="96.30" stroke="#000" stroke-width="0.9"/><line x1="176.7" y1="99.30" x2="190.0" y2="99.30" stroke="#000" stroke-width="0.9"/>
<text transform="translate(190.80 101.30) scale(1.24 1.0)" text-anchor="start" style="font-size:16.5px;">4</text>
<text transform="translate(201.39 101.30) scale(1.16 1.0)" text-anchor="start" style="font-size:17.0px;font-style:italic;">ρ</text>
<text transform="translate(210.47 105.30) scale(1.09 1.0)" text-anchor="start" style="font-size:12.7px;">0</text>
<text transform="translate(166.89 240.00) scale(1.16 1.0)" text-anchor="start" style="font-size:17.0px;font-style:italic;">ρ</text>
<line x1="176.8" y1="235.00" x2="190.05" y2="235.00" stroke="#000" stroke-width="0.9"/><line x1="176.8" y1="238.00" x2="190.05" y2="238.00" stroke="#000" stroke-width="0.9"/>
<text transform="translate(190.80 240.00) scale(1.15 1.0)" text-anchor="start" style="font-size:17.0px;">10</text>
<line x1="210.4" y1="228.10" x2="213.8" y2="228.10" stroke="#000" stroke-width="1"/>
<text transform="translate(214.53 231.10) scale(1.15 1.0)" text-anchor="start" style="font-size:11.8px;">4</text>
<text transform="translate(222.39 240.00) scale(1.16 1.0)" text-anchor="start" style="font-size:17.0px;font-style:italic;">ρ</text>
<text transform="translate(230.97 243.80) scale(1.09 1.0)" text-anchor="start" style="font-size:12.7px;">0</text>
<text transform="translate(166.89 262.80) scale(1.16 1.0)" text-anchor="start" style="font-size:17.0px;font-style:italic;">ρ</text>
<line x1="176.8" y1="257.80" x2="190.05" y2="257.80" stroke="#000" stroke-width="0.9"/><line x1="176.8" y1="260.80" x2="190.05" y2="260.80" stroke="#000" stroke-width="0.9"/>
<text transform="translate(190.80 262.80) scale(1.15 1.0)" text-anchor="start" style="font-size:17.0px;">10</text>
<line x1="210.4" y1="250.90" x2="213.8" y2="250.90" stroke="#000" stroke-width="1"/>
<text transform="translate(214.53 253.90) scale(1.15 1.0)" text-anchor="start" style="font-size:11.8px;">3</text>
<text transform="translate(222.39 262.80) scale(1.16 1.0)" text-anchor="start" style="font-size:17.0px;font-style:italic;">ρ</text>
<text transform="translate(230.97 266.60) scale(1.09 1.0)" text-anchor="start" style="font-size:12.7px;">0</text>
<text transform="translate(166.89 285.50) scale(1.16 1.0)" text-anchor="start" style="font-size:17.0px;font-style:italic;">ρ</text>
<line x1="176.8" y1="280.50" x2="190.05" y2="280.50" stroke="#000" stroke-width="0.9"/><line x1="176.8" y1="283.50" x2="190.05" y2="283.50" stroke="#000" stroke-width="0.9"/>
<text transform="translate(190.80 285.50) scale(1.15 1.0)" text-anchor="start" style="font-size:17.0px;">10</text>
<line x1="210.4" y1="273.60" x2="213.8" y2="273.60" stroke="#000" stroke-width="1"/>
<text transform="translate(214.53 276.60) scale(1.15 1.0)" text-anchor="start" style="font-size:11.8px;">2</text>
<text transform="translate(222.39 285.50) scale(1.16 1.0)" text-anchor="start" style="font-size:17.0px;font-style:italic;">ρ</text>
<text transform="translate(230.97 289.30) scale(1.09 1.0)" text-anchor="start" style="font-size:12.7px;">0</text>
<text transform="translate(166.89 308.30) scale(1.16 1.0)" text-anchor="start" style="font-size:17.0px;font-style:italic;">ρ</text>
<line x1="176.8" y1="303.30" x2="190.05" y2="303.30" stroke="#000" stroke-width="0.9"/><line x1="176.8" y1="306.30" x2="190.05" y2="306.30" stroke="#000" stroke-width="0.9"/>
<text transform="translate(190.80 308.30) scale(1.15 1.0)" text-anchor="start" style="font-size:17.0px;">10</text>
<line x1="210.4" y1="296.40" x2="213.8" y2="296.40" stroke="#000" stroke-width="1"/>
<text transform="translate(214.53 299.40) scale(1.15 1.0)" text-anchor="start" style="font-size:11.8px;">1</text>
<text transform="translate(222.39 308.30) scale(1.16 1.0)" text-anchor="start" style="font-size:17.0px;font-style:italic;">ρ</text>
<text transform="translate(230.97 312.10) scale(1.09 1.0)" text-anchor="start" style="font-size:12.7px;">0</text>
</svg></body></html>
